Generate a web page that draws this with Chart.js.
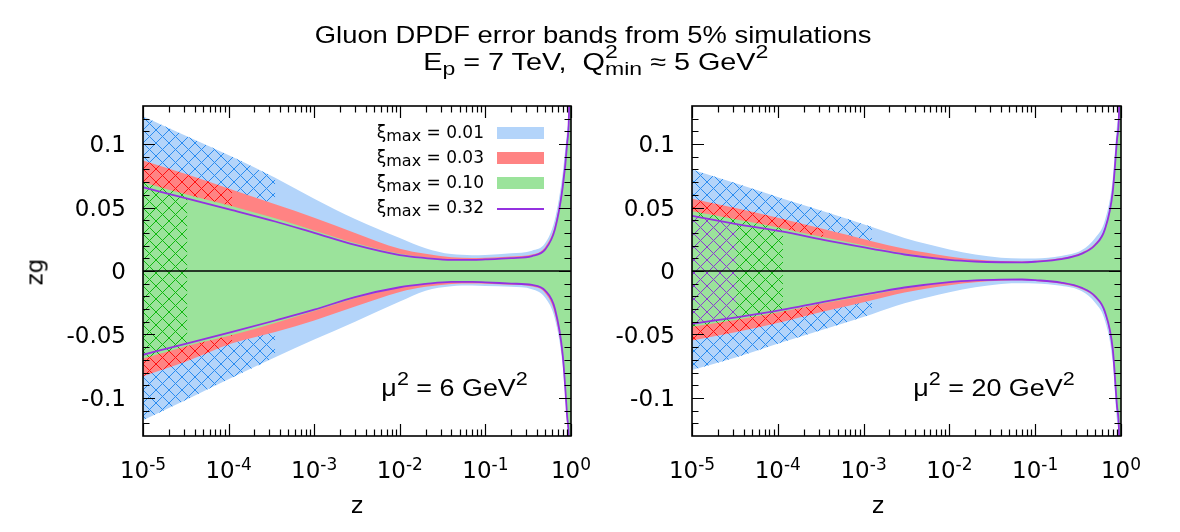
<!DOCTYPE html>
<html>
<head>
<meta charset="utf-8">
<title>Gluon DPDF error bands</title>
<script src="https://cdn.jsdelivr.net/npm/chart.js@4.4.1/dist/chart.umd.min.js"></script>
<style>
  body { margin: 0; background: #fff; }
  #page { position: relative; width: 1180px; height: 532px; overflow: hidden; background: #fff; }
  canvas { position: absolute; top: 0; }
  .txt { position: absolute; white-space: nowrap; line-height: 1; color: #000; }
  .hel { font-family: "Liberation Sans", Arial, sans-serif; font-size: 24px; }
  .dv { font-family: "DejaVu Sans", sans-serif; }
  .wide { display: inline-block; transform: scaleX(1.14); transform-origin: 50% 50%; }
  .wide2 { display: inline-block; transform: scaleX(1.2); transform-origin: 50% 50%; }
  .note { font-size: 23px; }
  .note .wide { transform: scaleX(1.17); }
  .sup { position: relative; top: -0.6em; font-size: 0.8em; }
  .sub { position: relative; top: 0.25em; font-size: 0.8em; }
  .lsub { position: relative; top: 3px; font-size: 16px; }
  .sw { position: absolute; }
</style>
</head>
<body>
<div id="page">
  <canvas id="left" width="590" height="532" style="left:0"></canvas>
  <canvas id="right" width="590" height="532" style="left:590px"></canvas>

  <div class="txt hel" style="left:193px;top:23px;width:800px;text-align:center"><span class="wide">Gluon DPDF error bands from 5% simulations</span></div>
  <div class="txt hel" style="left:196px;top:50px;width:800px;text-align:center"><span class="wide2">E<span class="sub">p</span> = 7 TeV,&nbsp; Q<span class="sup" style="display:inline-block;width:0">2</span><span class="sub">min</span> ≈ 5 GeV<span class="sup">2</span></span></div>

  <div class="txt dv" style="left:35px;top:272px;font-size:23px;transform:translate(-50%,-50%) rotate(-90deg)">zg</div>
  <div class="txt dv" style="left:357px;top:505px;font-size:23px;transform:translate(-50%,-50%)">z</div>
  <div class="txt dv" style="left:878px;top:505px;font-size:23px;transform:translate(-50%,-50%)">z</div>

  <div class="txt hel note" style="left:155px;top:377px;width:600px;text-align:center"><span class="wide">μ<span class="sup">2</span> = 6 GeV<span class="sup">2</span></span></div>
  <div class="txt hel note" style="left:694px;top:377px;width:600px;text-align:center"><span class="wide">μ<span class="sup">2</span> = 20 GeV<span class="sup">2</span></span></div>

  <div id="legend"></div>
</div>

<script>
// z grid and band edges (upper / lower edge of each error band)
const zLeft = [1e-5, 3.3e-5, 1.1e-4, 3.5e-4, 1e-3, 3e-3, 1e-2, 2e-2, 4e-2, 7e-2, 0.1, 0.2, 0.35, 0.5, 0.65, 0.8, 0.9, 0.95, 1];
const blueUpL   = [0.122, 0.106, 0.090, 0.0735, 0.057, 0.041, 0.026, 0.018, 0.0133, 0.0125, 0.0127, 0.014, 0.016, 0.022, 0.041, 0.077, 0.110, 0.135, 0.30];
const blueLoL   = [-0.1175, -0.101, -0.084, -0.068, -0.054, -0.040, -0.024, -0.0155, -0.012, -0.0115, -0.0118, -0.0125, -0.0143, -0.021, -0.038, -0.074, -0.120, -0.150, -0.30];
const redUpL    = [0.087, 0.076, 0.064, 0.0525, 0.042, 0.030, 0.0175, 0.0135, 0.0108, 0.0103, 0.0105, 0.0115, 0.013, 0.019, 0.036, 0.070, 0.104, 0.131, 0.25];
const redLoL    = [-0.083, -0.071, -0.057, -0.048, -0.039, -0.028, -0.0165, -0.0125, -0.0102, -0.0098, -0.010, -0.0108, -0.0122, -0.0175, -0.034, -0.070, -0.117, -0.145, -0.25];
const greenUpL  = [0.070, 0.060, 0.051, 0.0415, 0.032, 0.022, 0.0135, 0.0108, 0.009, 0.009, 0.0094, 0.0105, 0.0122, 0.0175, 0.034, 0.067, 0.101, 0.129, 0.25];
const greenLoL  = [-0.069, -0.059, -0.0505, -0.041, -0.0315, -0.0215, -0.0132, -0.0105, -0.0087, -0.0087, -0.009, -0.0101, -0.0113, -0.016, -0.031, -0.067, -0.115, -0.142, -0.25];
const purpleUpL = [0.066, 0.057, 0.048, 0.039, 0.030, 0.0205, 0.0125, 0.0102, 0.0087, 0.0087, 0.0091, 0.0102, 0.0118, 0.017, 0.033, 0.066, 0.100, 0.128, 0.25];
const purpleLoL = [-0.066, -0.057, -0.048, -0.039, -0.0305, -0.0205, -0.0128, -0.0102, -0.0085, -0.0085, -0.0089, -0.0099, -0.011, -0.0155, -0.030, -0.066, -0.114, -0.140, -0.25];
const hatchEndL = [3.5e-4, 1.1e-4, 3.3e-5, null];

const zRight = [1e-5, 3.3e-5, 1.15e-4, 3.4e-4, 1.25e-3, 3e-3, 1e-2, 2e-2, 4e-2, 7e-2, 0.1, 0.2, 0.35, 0.5, 0.65, 0.8, 0.9, 0.95, 1];
const blueUpR   = [0.080, 0.069, 0.057, 0.047, 0.0346, 0.026, 0.017, 0.013, 0.0105, 0.0099, 0.0099, 0.0118, 0.0165, 0.026, 0.040, 0.072, 0.115, 0.138, 0.30];
const blueLoR   = [-0.078, -0.068, -0.056, -0.046, -0.034, -0.0255, -0.0168, -0.0128, -0.0102, -0.0097, -0.0098, -0.0117, -0.016, -0.025, -0.039, -0.071, -0.118, -0.140, -0.30];
const redUpR    = [0.057, 0.0495, 0.041, 0.033, 0.0235, 0.0175, 0.0115, 0.009, 0.0078, 0.0075, 0.008, 0.0102, 0.0146, 0.0218, 0.0345, 0.065, 0.107, 0.130, 0.25];
const redLoR    = [-0.0547, -0.048, -0.040, -0.032, -0.023, -0.017, -0.0112, -0.0088, -0.0076, -0.0073, -0.0078, -0.010, -0.0143, -0.0213, -0.034, -0.064, -0.110, -0.132, -0.25];
const greenUpR  = [0.047, 0.0405, 0.0335, 0.0265, 0.019, 0.014, 0.0093, 0.0078, 0.0071, 0.007, 0.0075, 0.0095, 0.014, 0.021, 0.0335, 0.063, 0.105, 0.128, 0.25];
const greenLoR  = [-0.044, -0.0385, -0.032, -0.0255, -0.0185, -0.0137, -0.009, -0.0076, -0.0069, -0.0068, -0.0073, -0.0093, -0.0137, -0.0205, -0.0328, -0.062, -0.108, -0.130, -0.25];
const purpleUpR = [0.0434, 0.037, 0.031, 0.0245, 0.0175, 0.013, 0.0088, 0.0075, 0.0069, 0.0068, 0.0073, 0.0093, 0.0137, 0.0205, 0.033, 0.062, 0.104, 0.127, 0.25];
const purpleLoR = [-0.0416, -0.0365, -0.0305, -0.0243, -0.0175, -0.013, -0.0087, -0.0074, -0.0068, -0.0067, -0.0072, -0.0091, -0.0133, -0.020, -0.0322, -0.061, -0.107, -0.129, -0.25];
const hatchEndR = [1.25e-3, 3.4e-4, 1.15e-4, 3.3e-5];

const seriesNames = ['0.01', '0.03', '0.10', '0.32'];
const xTickExps = [-5, -4, -3, -2, -1, 0];
const yTickVals = [-0.1, -0.05, 0, 0.05, 0.1];
const yTickText = ['-0.1', '-0.05', '0', '0.05', '0.1'];

const bandColors = ['#b3d4fa', '#ff8383', '#9be39b', null];
const hatchColors = ['#2a8cf0', '#ff1010', '#10b810', '#8a3cd0'];
const PURPLE = '#9431e0';

function hatch(color) {
  const s = 13, c = document.createElement('canvas');
  c.width = c.height = s;
  const g = c.getContext('2d');
  g.strokeStyle = color;
  g.lineWidth = 1;
  g.beginPath();
  for (const k of [-1, 0, 1]) {
    g.moveTo(k * s, 0); g.lineTo(k * s + s, s);
    g.moveTo(k * s + s, 0); g.lineTo(k * s, s);
  }
  g.stroke();
  return g.createPattern(c, 'repeat');
}

// border, inward ticks on all sides, tick labels
const frame = {
  id: 'frame',
  afterDatasetsDraw(chart) {
    const { ctx, chartArea: a, scales: { x, y } } = chart;
    ctx.save();
    ctx.strokeStyle = '#000';
    ctx.lineWidth = 1.2;
    ctx.beginPath();
    for (const e of xTickExps) {
      const last = e < 0 ? 9 : 1;
      for (let m = 1; m <= last; m++) {
        const px = Math.round(x.getPixelForValue(m * Math.pow(10, e))) + 0.5;
        const len = m === 1 ? 12 : 6.5;
        ctx.moveTo(px, a.bottom); ctx.lineTo(px, a.bottom - len);
        ctx.moveTo(px, a.top); ctx.lineTo(px, a.top + len);
      }
    }
    for (let i = -12; i <= 12; i++) {
      const py = Math.round(y.getPixelForValue(i / 100)) + 0.5;
      const len = i % 5 === 0 ? 12 : 6.5;
      ctx.moveTo(a.left, py); ctx.lineTo(a.left + len, py);
      ctx.moveTo(a.right, py); ctx.lineTo(a.right - len, py);
    }
    ctx.stroke();
    ctx.lineWidth = 1.6;
    ctx.strokeRect(a.left, a.top, a.right - a.left, a.bottom - a.top);

    ctx.fillStyle = '#000';
    ctx.textBaseline = 'alphabetic';
    ctx.font = '23px "DejaVu Sans"';
    ctx.textAlign = 'right';
    yTickVals.forEach((v, i) => ctx.fillText(yTickText[i], a.left - 17, y.getPixelForValue(v) + 8.4));

    ctx.textAlign = 'left';
    for (const e of xTickExps) {
      const px = x.getPixelForValue(Math.pow(10, e));
      ctx.font = '23px "DejaVu Sans"';
      const wb = ctx.measureText('10').width;
      ctx.font = '17px "DejaVu Sans"';
      const we = ctx.measureText(String(e)).width;
      const x0 = px - (wb + we) / 2;
      ctx.font = '23px "DejaVu Sans"';
      ctx.fillText('10', x0, a.bottom + 42);
      ctx.font = '17px "DejaVu Sans"';
      ctx.fillText(String(e), x0 + wb, a.bottom + 33.5);
    }
    ctx.restore();
  }
};

function line(points, extra) {
  return Object.assign({
    data: points,
    pointRadius: 0,
    borderWidth: 0,
    borderColor: 'transparent',
    fill: false,
    cubicInterpolationMode: 'monotone',
    clip: 0
  }, extra);
}

function buildPanel(id, z, ups, los, hatchEnds, pad) {
  const pts = (arr, n) => z.slice(0, n).map((v, i) => ({ x: v, y: arr[i] }));
  const ds = [];
  for (let k = 0; k < 4; k++) {
    if (bandColors[k]) {
      ds.push(line(pts(ups[k], z.length)));
      ds.push(line(pts(los[k], z.length), { fill: '-1', backgroundColor: bandColors[k] }));
    }
    const n = z.indexOf(hatchEnds[k]) + 1;
    if (n > 1) {
      ds.push(line(pts(ups[k], n)));
      ds.push(line(pts(los[k], n), { fill: '-1', backgroundColor: hatch(hatchColors[k]) }));
    }
  }
  ds.push(line([{ x: z[0], y: 0 }, { x: z[z.length - 1], y: 0 }], { borderWidth: 1.3, borderColor: '#000' }));
  ds.push(line(pts(ups[3], z.length), { borderWidth: 1.8, borderColor: PURPLE }));
  ds.push(line(pts(los[3], z.length), { borderWidth: 1.8, borderColor: PURPLE }));
  ds.forEach((d, i) => { d.order = ds.length - i; });

  return new Chart(document.getElementById(id), {
    type: 'line',
    data: { datasets: ds },
    options: {
      responsive: false,
      animation: false,
      devicePixelRatio: 1,
      events: [],
      layout: { padding: pad },
      scales: {
        x: { type: 'logarithmic', min: 1e-5, max: 1, display: false },
        y: { type: 'linear', min: -0.13, max: 0.13, display: false }
      },
      plugins: { legend: { display: false }, tooltip: { enabled: false } }
    },
    plugins: [frame]
  });
}

buildPanel('left', zLeft,
  [blueUpL, redUpL, greenUpL, purpleUpL],
  [blueLoL, redLoL, greenLoL, purpleLoL],
  hatchEndL, { left: 143, right: 19, top: 106, bottom: 96 });

buildPanel('right', zRight,
  [blueUpR, redUpR, greenUpR, purpleUpR],
  [blueLoR, redLoR, greenLoR, purpleLoR],
  hatchEndR, { left: 102, right: 59, top: 106, bottom: 96 });

// key inside the left panel
const legend = document.getElementById('legend');
seriesNames.forEach((name, i) => {
  const t = document.createElement('div');
  t.className = 'txt dv';
  t.style.cssText = 'right:696px;top:' + (124 + 25 * i) + 'px;font-size:17px';
  t.innerHTML = 'ξ<span class="lsub">max</span> = ' + name;
  legend.appendChild(t);
  const s = document.createElement('div');
  s.className = 'sw';
  if (bandColors[i]) {
    s.style.cssText = 'left:497px;top:' + (127 + 25 * i) + 'px;width:47px;height:12px;background:' + bandColors[i];
  } else {
    s.style.cssText = 'left:497px;top:' + (127 + 25 * i + 6) + 'px;width:47px;height:1.8px;background:' + PURPLE;
  }
  legend.appendChild(s);
});
</script>
</body>
</html>
